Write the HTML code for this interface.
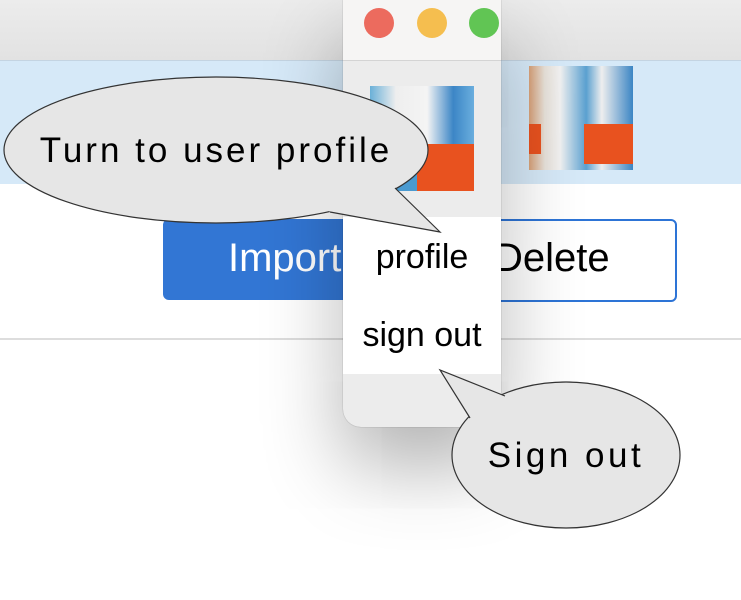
<!DOCTYPE html>
<html><head><style>
body{margin:0;width:741px;height:600px;overflow:hidden;background:#fff;position:relative;font-family:"Liberation Sans",sans-serif}
.a{position:absolute}
</style></head><body>
<div class="a" style="left:0;top:0;width:741px;height:60px;background:linear-gradient(#ececec,#e2e2e2)"></div>
<div class="a" style="left:0;top:60px;width:741px;height:123px;background:#d6e9f8;border-top:1px solid #c4d4e2"></div>
<div class="a" style="left:529px;top:66px;width:104px;height:104px;background:linear-gradient(90deg,#d9a27a 0,#e8e2da 15%,#f2f2f2 30%,#5aa0d0 55%,#eee 70%,#3b85c4 100%)"><div class="a" style="left:55px;top:58px;width:49px;height:40px;background:#e8521f"></div><div class="a" style="left:0;top:58px;width:12px;height:30px;background:#e8521f"></div></div>
<div class="a" style="left:0;top:338px;width:741px;height:2px;background:#ddd"></div>
<div class="a" style="left:163px;top:219px;width:200px;height:81px;background:#3276d4;border-radius:6px"></div>
<div class="a" style="left:228px;top:236px;font-size:40px;color:#fff">Import</div>
<div class="a" style="left:400px;top:219px;width:273px;height:79px;border:2px solid #2d74d6;border-radius:6px;background:#fff"></div>
<div class="a" style="left:494px;top:236px;font-size:40px;color:#000">Delete</div>
<div class="a" style="left:343px;top:0;width:158px;height:427px;background:#ececec;border-radius:0 0 18px 18px;box-shadow:0 40px 80px rgba(0,0,0,0.3),0 0 1px rgba(0,0,0,0.4);overflow:hidden">
 <div class="a" style="left:0;top:0;width:158px;height:60px;background:#f6f5f4;border-bottom:1px solid #d4d4d4"></div>
 <div class="a" style="left:21px;top:8px;width:30px;height:30px;border-radius:50%;background:#ec6b5e"></div>
 <div class="a" style="left:74px;top:8px;width:30px;height:30px;border-radius:50%;background:#f5be4f"></div>
 <div class="a" style="left:126px;top:8px;width:30px;height:30px;border-radius:50%;background:#61c554"></div>
 <div class="a" style="left:27px;top:86px;width:104px;height:105px;background:linear-gradient(90deg,#6ab0d8 0,#eee 25%,#f4f4f4 55%,#3c86c6 80%,#6aaede 100%)"><div class="a" style="left:0;top:58px;width:104px;height:47px;background:linear-gradient(90deg,#4a9ad0 0,#4a9ad0 45%,#e8521f 45%)"></div></div>
 <div class="a" style="left:0;top:217px;width:158px;height:157px;background:#fff"></div>
 <div class="a" style="left:0;top:238px;width:158px;text-align:center;font-size:34px">profile</div>
 <div class="a" style="left:0;top:316px;width:158px;text-align:center;font-size:34px">sign out</div>
</div>
<svg class="a" style="left:0;top:0" width="741" height="600">
<ellipse cx="216" cy="150" rx="212" ry="73" fill="#e6e6e6" stroke="#333" stroke-width="1.2"/>
<polygon points="326,206 330,212 440,232 395,188 390,186" fill="#e6e6e6"/>
<polyline points="330,212 440,232 395,188" fill="none" stroke="#333" stroke-width="1.2"/>
<ellipse cx="566" cy="455" rx="114" ry="73" fill="#e6e6e6" stroke="#333" stroke-width="1.2"/>
<polygon points="474,422 470,418 440,370 505,396 510,400" fill="#e6e6e6"/>
<polyline points="470,418 440,370 505,396" fill="none" stroke="#333" stroke-width="1.2"/>
<text x="216" y="162" font-size="35" text-anchor="middle" letter-spacing="3" font-family="Liberation Sans,sans-serif">Turn to user profile</text>
<text x="566" y="467" font-size="35" text-anchor="middle" letter-spacing="3.5" font-family="Liberation Sans,sans-serif">Sign out</text>
</svg>
</body></html>
